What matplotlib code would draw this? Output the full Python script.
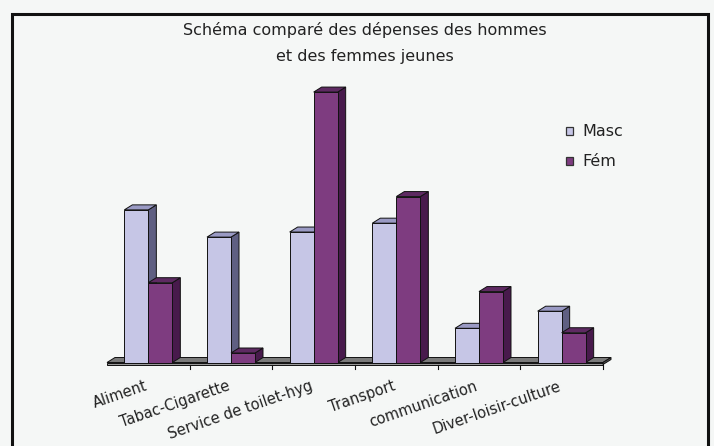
import matplotlib.pyplot as plt
from matplotlib.patches import Polygon, Rectangle

# categories and values (share of spending, %)
categories = ['Aliment', 'Tabac-Cigarette', 'Service de toilet-hyg',
              'Transport', 'communication', 'Diver-loisir-culture']
masc = [24.1, 19.8, 20.6, 22.0, 5.4, 8.1]
fem = [12.6, 1.5, 42.7, 26.2, 11.2, 4.7]
series = ['Masc', 'Fém']

W, H = 714, 446
fig = plt.figure(figsize=(W / 100, H / 100), dpi=100, facecolor='#f5f7f6')

# axes placed in pixels: category floor from x=107 to 603, baseline at y=362.5
left_px, right_px, base_px, top_px = 107, 603, 362.5, 77.5
ymax = 45
ax = fig.add_axes([left_px / W, (H - base_px) / H,
                   (right_px - left_px) / W, (base_px - top_px) / H])
ax.set_xlim(0, len(categories))
ax.set_ylim(0, ymax)
ax.axis('off')

# pixel -> data units
px_x = len(categories) / (right_px - left_px)
px_y = ymax / (base_px - top_px)
dx, dy = 8 * px_x, 5 * px_y

# couleurs: face avant, côté, dessus
colors = {
    'Masc': ('#c6c6e6', '#5f5f82', '#9a9ac4'),
    'Fém': ('#7e3c80', '#481a4c', '#5e2a62'),
}


def poly(pts, fc, z=2):
    ax.add_patch(Polygon(pts, closed=True, facecolor=fc, edgecolor='#111111',
                         linewidth=0.7, clip_on=False, zorder=z))


def bar3d(x, w, h, cols):
    front, side, top = cols
    poly([(x + w, 0), (x + w + dx, dy), (x + w + dx, h + dy), (x + w, h)], side)
    poly([(x, h), (x + dx, h + dy), (x + w + dx, h + dy), (x + w, h)], top)
    poly([(x, 0), (x + w, 0), (x + w, h), (x, h)], front)


# floor
n = len(categories)
thick = 2 * px_y
poly([(0, 0), (dx, dy), (n + dx, dy), (n, 0)], '#7a7a7a', z=1)
poly([(0, 0), (n, 0), (n, -thick), (0, -thick)], '#9a9a9a', z=1)
poly([(n, 0), (n + dx, dy), (n + dx, dy - thick), (n, -thick)], '#555555', z=1)
for i in range(1, n + 1):
    ax.plot([i, i], [-thick, -thick - 4 * px_y], color='#111111', lw=0.8,
            clip_on=False, zorder=1)

# bars
bw = 24 * px_x
for i in range(n):
    c = i + 0.5
    bar3d(c - bw, bw, masc[i], colors['Masc'])
    bar3d(c, bw, fem[i], colors['Fém'])

# tick labels
for i, lab in enumerate(categories):
    ax.text(i + 0.5 - 4 * px_x, -16 * px_y, lab, rotation=19,
            rotation_mode='anchor', ha='right', va='top', fontsize=10.5,
            color='#222222')

# title
fig.text(364.5 / W, 1 - 30 / H, 'Schéma comparé des dépenses des hommes',
         ha='center', va='center', fontsize=11.5, color='#222222')
fig.text(364.5 / W, 1 - 56 / H, 'et des femmes jeunes',
         ha='center', va='center', fontsize=11.5, color='#222222')

# legend
for name, yc in zip(series, [131, 161]):
    fig.add_artist(Rectangle((566 / W, 1 - (yc + 3.5) / H), 7 / W, 7 / H,
                             transform=fig.transFigure,
                             facecolor=colors[name][0], edgecolor='#333333',
                             linewidth=0.9))
    fig.text(582 / W, 1 - yc / H, name, ha='left', va='center',
             fontsize=11.5, color='#222222')

# cadre
fig.add_artist(Rectangle((12 / W, -0.1), (708 - 12) / W, 0.1 + (H - 14) / H,
                         transform=fig.transFigure, fill=False,
                         edgecolor='#111111', linewidth=2.2))

fig.savefig('out.png', dpi=100, facecolor=fig.get_facecolor())
